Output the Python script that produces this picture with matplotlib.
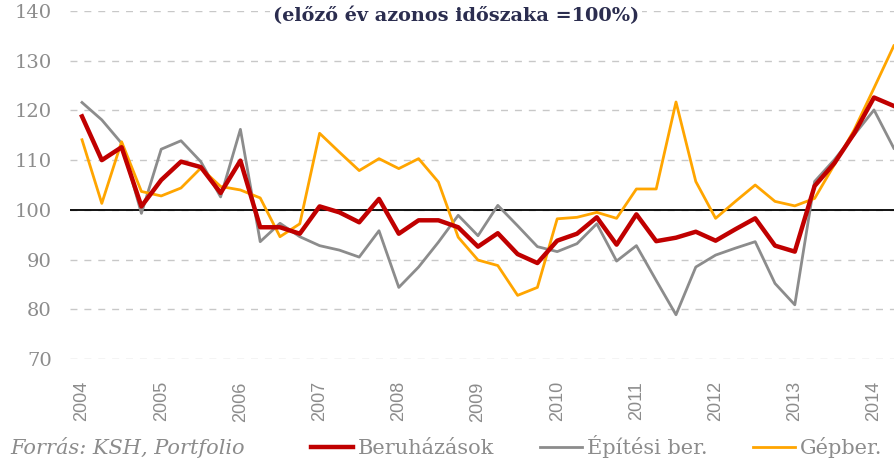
import numpy as np
import matplotlib.pyplot as plt

# quarterly data, 2004 Q1 .. 2014 Q2
years = ['2004', '2005', '2006', '2007', '2008', '2009', '2010', '2011', '2012', '2013', '2014']

beruhazasok = [118.8, 110.0, 112.6, 100.7, 106.0, 109.7, 108.6, 103.4, 109.9, 96.5,
               96.5, 95.2, 100.7, 99.5, 97.5, 102.2, 95.2, 97.9, 97.9, 96.5,
               92.6, 95.3, 91.1, 89.3, 93.8, 95.2, 98.5, 93.0, 99.1, 93.7,
               94.4, 95.6, 93.8, 96.1, 98.3, 92.8, 91.6, 104.8, 109.4, 115.4,
               122.6, 120.9]
epitesi = [121.6, 118.1, 113.4, 99.3, 112.2, 113.9, 109.7, 102.6, 116.2, 93.6,
           97.3, 94.6, 92.8, 91.9, 90.5, 95.8, 84.4, 88.5, 93.5, 98.9,
           94.8, 100.9, 96.8, 92.6, 91.6, 93.2, 97.2, 89.7, 92.8, 85.8,
           78.9, 88.5, 90.9, 92.3, 93.6, 85.2, 80.9, 105.7, 110.1, 115.1,
           120.1, 112.4]
gepber = [114.1, 101.3, 113.7, 103.7, 102.8, 104.4, 108.4, 104.7, 104.0, 102.4,
          94.6, 97.2, 115.4, 111.6, 107.9, 110.3, 108.3, 110.3, 105.6, 94.5,
          89.9, 88.8, 82.8, 84.4, 98.2, 98.5, 99.5, 98.3, 104.2, 104.2,
          121.7, 105.7, 98.3, 101.7, 105.0, 101.7, 100.8, 102.3, 109.1, 116.1,
          124.5, 133.0]

x = np.arange(len(beruhazasok))
gray_txt = '#8c8c8c'

fig = plt.figure(figsize=(8.94, 4.62), dpi=100)
ax = fig.add_axes([70 / 894, 103 / 462, 824 / 894, 348 / 462])

ax.set_ylim(70, 140)
ax.set_xlim(-0.606, 41.01)
ax.set_yticks(range(70, 141, 10))
ax.grid(axis='y', color='#c8c8c8', linestyle=(0, (5, 5)), linewidth=1)
ax.set_axisbelow(True)
ax.axhline(100, color='black', linewidth=1.3, zorder=2)

l1, = ax.plot(x, beruhazasok, color='#c00000', linewidth=3.2, label='Beruházások', zorder=5)
l2, = ax.plot(x, epitesi, color='#8c8c8c', linewidth=2.0, label='Építési ber.', zorder=3)
l3, = ax.plot(x, gepber, color='#ffa500', linewidth=2.0, label='Gépber.', zorder=4)

for s in ax.spines.values():
    s.set_visible(False)

ax.set_xticks(x[::4])
ax.set_xticklabels(years, rotation=90, fontsize=13, family='Liberation Sans',
                   color=gray_txt, va='top', ha='center')
ax.tick_params(axis='x', length=0, pad=16)
ax.tick_params(axis='y', length=0, pad=13, labelsize=14, labelcolor=gray_txt)
for t in ax.get_yticklabels():
    t.set_family('DejaVu Serif')

fig.text(456 / 894, 1 - 16 / 462, '(előző év azonos időszaka =100%)',
         ha='center', va='center', fontsize=13.9, family='DejaVu Serif',
         fontweight='bold', color='#2b2d4f',
         bbox=dict(facecolor='white', edgecolor='none', pad=2))

fig.text(10 / 894, 1 - 448 / 462, 'Forrás: KSH, Portfolio', ha='left', va='center',
         fontsize=15, family='DejaVu Serif', style='italic', color=gray_txt)

fig.legend(handles=[l1, l2, l3], loc='center left',
           bbox_to_anchor=(311 / 894, 1 - 447 / 462), ncol=3, frameon=False,
           borderpad=0, borderaxespad=0, handlelength=2.0, handletextpad=0.25,
           columnspacing=2.2, prop={'family': 'DejaVu Serif', 'size': 15},
           labelcolor=gray_txt)

fig.savefig('out.png', dpi=100)
